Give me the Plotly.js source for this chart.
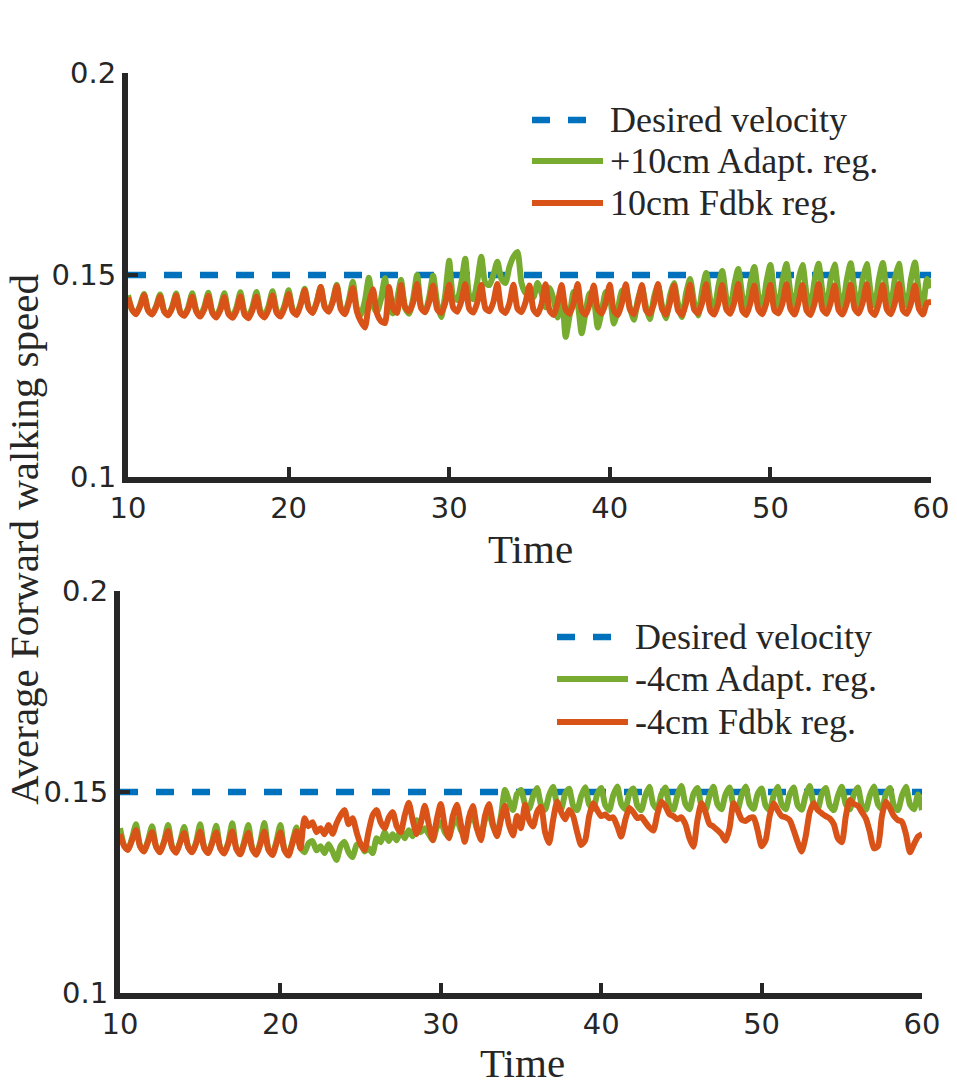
<!DOCTYPE html>
<html>
<head>
<meta charset="utf-8">
<script src="https://cdn.plot.ly/plotly-3.0.1.min.js"></script>
<style>
  html, body { margin: 0; padding: 0; background: #fff; }
  #chart { width: 957px; height: 1088px; }
</style>
</head>
<body>
<div id="chart"></div>
<script>
// time samples (s), every 0.25 from 10 to 60
const t = [
  10,10.25,10.5,10.75, 11,11.25,11.5,11.75, 12,12.25,12.5,12.75, 13,13.25,13.5,13.75, 14,14.25,14.5,14.75,
  15,15.25,15.5,15.75, 16,16.25,16.5,16.75, 17,17.25,17.5,17.75, 18,18.25,18.5,18.75, 19,19.25,19.5,19.75,
  20,20.25,20.5,20.75, 21,21.25,21.5,21.75, 22,22.25,22.5,22.75, 23,23.25,23.5,23.75, 24,24.25,24.5,24.75,
  25,25.25,25.5,25.75, 26,26.25,26.5,26.75, 27,27.25,27.5,27.75, 28,28.25,28.5,28.75, 29,29.25,29.5,29.75,
  30,30.25,30.5,30.75, 31,31.25,31.5,31.75, 32,32.25,32.5,32.75, 33,33.25,33.5,33.75, 34,34.25,34.5,34.75,
  35,35.25,35.5,35.75, 36,36.25,36.5,36.75, 37,37.25,37.5,37.75, 38,38.25,38.5,38.75, 39,39.25,39.5,39.75,
  40,40.25,40.5,40.75, 41,41.25,41.5,41.75, 42,42.25,42.5,42.75, 43,43.25,43.5,43.75, 44,44.25,44.5,44.75,
  45,45.25,45.5,45.75, 46,46.25,46.5,46.75, 47,47.25,47.5,47.75, 48,48.25,48.5,48.75, 49,49.25,49.5,49.75,
  50,50.25,50.5,50.75, 51,51.25,51.5,51.75, 52,52.25,52.5,52.75, 53,53.25,53.5,53.75, 54,54.25,54.5,54.75,
  55,55.25,55.5,55.75, 56,56.25,56.5,56.75, 57,57.25,57.5,57.75, 58,58.25,58.5,58.75, 59,59.25,59.5,59.75,
  60
];

const desiredT = [10, 60];
const desiredV = [0.15, 0.15];

// top panel: +10cm adaptive regulator
const topAdapt = [
  .1450,.1414,.1404,.1425, .1453,.1413,.1403,.1423, .1452,.1411,.1401,.1421, .1454,.1410,.1400,.1420,
  .1455,.1412,.1399,.1421, .1456,.1409,.1398,.1420, .1455,.1408,.1397,.1419, .1457,.1409,.1398,.1421,
  .1458,.1411,.1400,.1423, .1460,.1413,.1402,.1426, .1462,.1415,.1404,.1430, .1466,.1419,.1407,.1434,
  .1470,.1422,.1410,.1437, .1476,.1420,.1406,.1438, .1483,.1418,.1402,.1436, .1493,.1425,.1408,.1440,
  .1492,.1420,.1405,.1438, .1488,.1418,.1404,.1440, .1500,.1422,.1408,.1445, .1498,.1430,.1396,.1450,
  .1535,.1445,.1438,.1480, .1540,.1450,.1440,.1485, .1545,.1480,.1475,.1500, .1533,.1490,.1480,.1520,
  .1545,.1557,.1480,.1455, .1470,.1445,.1480,.1455, .1420,.1468,.1440,.1395, .1465,.1347,.1400,.1458,
  .1430,.1356,.1410,.1455, .1440,.1370,.1410,.1458, .1445,.1380,.1415,.1460, .1465,.1420,.1389,.1440,
  .1470,.1422,.1391,.1445, .1475,.1425,.1393,.1450, .1480,.1428,.1396,.1455, .1490,.1432,.1400,.1462,
  .1505,.1440,.1410,.1470, .1510,.1445,.1412,.1475, .1515,.1448,.1415,.1480, .1520,.1450,.1418,.1482,
  .1525,.1452,.1420,.1485, .1527,.1455,.1422,.1488, .1525,.1453,.1421,.1486, .1528,.1456,.1423,.1488,
  .1526,.1454,.1422,.1487, .1529,.1457,.1424,.1489, .1527,.1455,.1423,.1488, .1530,.1456,.1424,.1490,
  .1528,.1455,.1423,.1489, .1531,.1457,.1425,.1490, .1468
];

// top panel: 10cm feedback regulator
const topFdbk = [
  .1445,.1415,.1403,.1422, .1450,.1412,.1402,.1420, .1447,.1410,.1400,.1418, .1449,.1408,.1399,.1416,
  .1446,.1410,.1397,.1415, .1448,.1406,.1395,.1413, .1445,.1404,.1394,.1411, .1447,.1403,.1393,.1413,
  .1446,.1405,.1395,.1414, .1449,.1407,.1397,.1419, .1453,.1411,.1401,.1426, .1462,.1418,.1406,.1431,
  .1470,.1421,.1409,.1433, .1472,.1416,.1403,.1431, .1468,.1410,.1385,.1370, .1430,.1465,.1405,.1386,
  .1381,.1470,.1418,.1406, .1475,.1421,.1410,.1431, .1478,.1418,.1408,.1433, .1474,.1415,.1406,.1430,
  .1476,.1419,.1409,.1434, .1477,.1416,.1407,.1432, .1475,.1418,.1410,.1433, .1478,.1415,.1406,.1430,
  .1476,.1417,.1408,.1432, .1474,.1414,.1403,.1428, .1477,.1412,.1401,.1430, .1475,.1415,.1404,.1431,
  .1478,.1413,.1402,.1429, .1474,.1416,.1405,.1432, .1476,.1412,.1401,.1430, .1477,.1415,.1403,.1431,
  .1475,.1413,.1404,.1429, .1478,.1416,.1402,.1432, .1474,.1412,.1401,.1430, .1476,.1415,.1405,.1431,
  .1477,.1413,.1402,.1429, .1475,.1416,.1404,.1432, .1478,.1412,.1401,.1430, .1474,.1415,.1403,.1431,
  .1476,.1413,.1405,.1429, .1477,.1416,.1402,.1432, .1475,.1412,.1401,.1430, .1478,.1415,.1404,.1431,
  .1474,.1413,.1402,.1429, .1476,.1416,.1405,.1432, .1477,.1412,.1401,.1430, .1475,.1415,.1403,.1431,
  .1478,.1413,.1404,.1429, .1474,.1416,.1402,.1431, .1433
];

// bottom panel: -4cm adaptive regulator
const botAdapt = [
  .1410,.1368,.1357,.1385, .1420,.1366,.1354,.1380, .1415,.1365,.1352,.1378, .1418,.1364,.1351,.1377,
  .1413,.1364,.1351,.1376, .1420,.1362,.1350,.1377, .1416,.1361,.1349,.1375, .1422,.1360,.1347,.1378,
  .1418,.1359,.1346,.1376, .1423,.1358,.1345,.1377, .1418,.1357,.1344,.1376, .1412,.1362,.1350,.1372,
  .1378,.1355,.1365,.1348, .1370,.1352,.1331,.1365, .1376,.1350,.1338,.1368, .1372,.1352,.1360,.1348,
  .1385,.1375,.1400,.1378, .1395,.1380,.1405,.1385, .1405,.1390,.1430,.1400, .1410,.1395,.1380,.1412,
  .1425,.1400,.1388,.1418, .1432,.1405,.1390,.1425, .1440,.1410,.1392,.1430, .1448,.1415,.1395,.1440,
  .1505,.1478,.1455,.1495, .1505,.1470,.1458,.1490, .1510,.1468,.1456,.1492, .1513,.1470,.1457,.1495,
  .1508,.1466,.1455,.1490, .1512,.1469,.1458,.1494, .1510,.1467,.1455,.1492, .1514,.1470,.1457,.1495,
  .1509,.1466,.1455,.1491, .1513,.1469,.1458,.1494, .1511,.1467,.1456,.1492, .1515,.1470,.1457,.1495,
  .1510,.1466,.1455,.1490, .1513,.1469,.1457,.1494, .1511,.1467,.1456,.1492, .1514,.1470,.1458,.1495,
  .1509,.1466,.1455,.1491, .1513,.1469,.1457,.1494, .1511,.1467,.1456,.1492, .1515,.1470,.1458,.1495,
  .1510,.1466,.1455,.1490, .1513,.1469,.1457,.1494, .1511,.1467,.1456,.1492, .1514,.1470,.1458,.1495,
  .1510,.1466,.1455,.1491, .1513,.1469,.1457,.1494, .1455
];

// bottom panel: -4cm feedback regulator
const botFdbk = [
  .1395,.1366,.1356,.1380, .1405,.1365,.1352,.1376, .1400,.1364,.1350,.1375, .1403,.1362,.1349,.1374,
  .1398,.1363,.1350,.1372, .1401,.1361,.1348,.1373, .1399,.1360,.1347,.1371, .1402,.1359,.1345,.1372,
  .1398,.1358,.1344,.1370, .1401,.1357,.1343,.1371, .1399,.1356,.1342,.1372, .1402,.1360,.1435,.1415,
  .1425,.1400,.1410,.1395, .1418,.1396,.1422,.1442, .1455,.1420,.1435,.1400, .1370,.1356,.1402,.1442,
  .1455,.1425,.1410,.1436, .1450,.1415,.1400,.1442, .1473,.1430,.1395,.1422, .1466,.1420,.1380,.1432,
  .1470,.1415,.1385,.1440, .1468,.1420,.1376,.1436, .1465,.1410,.1380,.1440, .1470,.1420,.1390,.1431,
  .1466,.1418,.1392,.1440, .1410,.1468,.1430,.1414, .1450,.1463,.1400,.1373, .1430,.1476,.1450,.1432,
  .1455,.1440,.1400,.1368, .1380,.1440,.1472,.1455, .1440,.1444,.1435,.1437, .1415,.1389,.1430,.1460,
  .1450,.1435,.1438,.1425, .1412,.1404,.1445,.1476, .1465,.1445,.1440,.1432, .1437,.1420,.1385,.1364,
  .1430,.1472,.1450,.1420, .1414,.1405,.1395,.1379, .1410,.1472,.1455,.1432, .1428,.1435,.1437,.1405,
  .1365,.1380,.1440,.1472, .1455,.1440,.1437,.1430, .1405,.1375,.1352,.1390, .1450,.1472,.1455,.1447,
  .1440,.1434,.1420,.1385, .1375,.1440,.1480,.1470, .1466,.1450,.1434,.1400, .1360,.1365,.1440,.1476,
  .1460,.1440,.1430,.1426, .1395,.1350,.1370,.1389, .1395
];

const legendTop = ['Desired velocity', '+10cm Adapt. reg.', '10cm Fdbk reg.'];
const legendBot = ['Desired velocity', '-4cm Adapt. reg.', '-4cm Fdbk reg.'];
const xTicks = [10, 20, 30, 40, 50, 60];
const yTicks = [0.1, 0.15, 0.2];
const yTickText = ['0.1', '0.15', '0.2'];

const BLUE = '#0072BD', ORANGE = '#D95319', GREEN = '#77AC30', INK = '#262626';
const W = 957, H = 1088;
const px = v => v / W, py = v => 1 - v / H;
const SERIF = 'Liberation Serif, Times New Roman, serif';

const traces = [
  {x: desiredT, y: desiredV, xaxis: 'x', yaxis: 'y', name: legendTop[0], mode: 'lines', line: {color: BLUE, width: 6.5, dash: '18px,18px'}},
  {x: t, y: topAdapt, xaxis: 'x', yaxis: 'y', name: legendTop[1], mode: 'lines', line: {color: GREEN, width: 6, shape: 'spline', smoothing: 0.6}},
  {x: t, y: topFdbk, xaxis: 'x', yaxis: 'y', name: legendTop[2], mode: 'lines', line: {color: ORANGE, width: 6, shape: 'spline', smoothing: 0.6}},
  {x: desiredT, y: desiredV, xaxis: 'x2', yaxis: 'y2', name: legendBot[0], mode: 'lines', line: {color: BLUE, width: 6.5, dash: '18px,18px'}},
  {x: t, y: botAdapt, xaxis: 'x2', yaxis: 'y2', name: legendBot[1], mode: 'lines', line: {color: GREEN, width: 6, shape: 'spline', smoothing: 0.6}},
  {x: t, y: botFdbk, xaxis: 'x2', yaxis: 'y2', name: legendBot[2], mode: 'lines', line: {color: ORANGE, width: 6, shape: 'spline', smoothing: 0.6}}
];

const axBase = {
  showline: true, linewidth: 6, linecolor: INK, mirror: false,
  ticks: 'inside', ticklen: 10, tickwidth: 4, tickcolor: INK,
  showgrid: false, zeroline: false, fixedrange: true,
  tickfont: {family: 'DejaVu Sans', size: 29, color: INK}
};
const xa = dom => Object.assign({}, axBase, {domain: dom, range: [10, 60], tickmode: 'array', tickvals: xTicks});
const ya = dom => Object.assign({}, axBase, {domain: dom, range: [0.1, 0.2], tickmode: 'array', tickvals: yTicks, ticktext: yTickText});

// hand-built legends (long line samples like the original)
const legendRows = (names, x0, x1, xText, ys) => {
  const cols = [BLUE, GREEN, ORANGE];
  const shapes = names.map((n, i) => ({
    type: 'line', xref: 'paper', yref: 'paper',
    x0: px(x0), x1: px(i === 0 ? x0 + 56 : x1), y0: py(ys[i]), y1: py(ys[i]),
    line: {color: cols[i], width: i === 0 ? 6.5 : 6, dash: i === 0 ? '18px,18px' : 'solid'}
  }));
  const notes = names.map((n, i) => ({
    text: n, xref: 'paper', yref: 'paper', x: px(xText), y: py(ys[i]),
    xanchor: 'left', yanchor: 'middle', showarrow: false,
    font: {family: SERIF, size: 36, color: INK}
  }));
  return {shapes, notes};
};
const lt = legendRows(legendTop, 532, 603, 608, [120, 161, 203]);
const lb = legendRows(legendBot, 557, 628, 633, [637, 679, 722]);

const layout = {
  width: W, height: H,
  margin: {l: 0, r: 0, t: 0, b: 0},
  paper_bgcolor: '#fff', plot_bgcolor: '#fff',
  showlegend: false,
  xaxis: Object.assign(xa([px(128), px(931)]), {anchor: 'y'}),
  yaxis: Object.assign(ya([py(477), py(73)]), {anchor: 'x'}),
  xaxis2: Object.assign(xa([px(120), px(922)]), {anchor: 'y2'}),
  yaxis2: Object.assign(ya([py(993), py(591)]), {anchor: 'x2'}),
  shapes: lt.shapes.concat(lb.shapes),
  annotations: [
    {text: 'Average Forward walking speed', xref: 'paper', yref: 'paper', x: px(24), y: py(540),
     textangle: -90, xanchor: 'center', yanchor: 'middle', showarrow: false,
     font: {family: SERIF, size: 41, color: INK}},
    {text: 'Time', xref: 'paper', yref: 'paper', x: px(530), y: py(549),
     xanchor: 'center', yanchor: 'middle', showarrow: false, font: {family: SERIF, size: 41, color: INK}},
    {text: 'Time', xref: 'paper', yref: 'paper', x: px(522), y: py(1063),
     xanchor: 'center', yanchor: 'middle', showarrow: false, font: {family: SERIF, size: 41, color: INK}}
  ].concat(lt.notes, lb.notes)
};

Plotly.newPlot('chart', traces, layout, {displayModeBar: false, staticPlot: true});
</script>
</body>
</html>
